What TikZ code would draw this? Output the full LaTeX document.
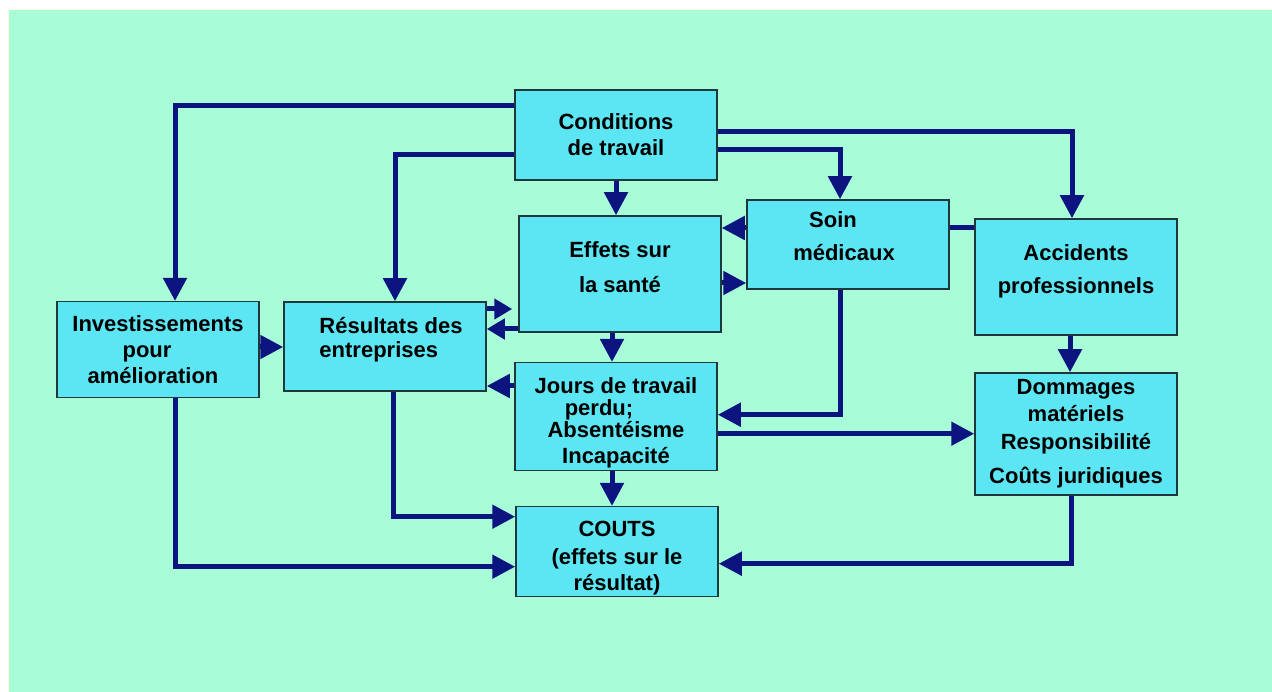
\documentclass[tikz,border=0pt]{standalone}
\usepackage{fontspec}
\setmainfont{Liberation Sans}
\usepackage{xcolor}
\usetikzlibrary{arrows.meta}
\definecolor{fond}{RGB}{168,252,216}
\definecolor{cyanbloc}{RGB}{92,230,244}
\definecolor{marine}{RGB}{12,20,128}
\definecolor{bord}{RGB}{30,56,60}

\begin{document}
\begin{tikzpicture}[x=1pt,y=-1pt,
		bloc/.style={draw=bord, line width=1.5pt, fill=cyanbloc, minimum width=202pt, inner sep=0pt, align=center, font=\fontsize{22}{26}\selectfont\bfseries},
		fleche/.style={draw=marine, line width=5pt, -{Triangle[length=23pt,width=23pt]}},
		petite/.style={draw=marine, line width=5pt, -{Triangle[length=18pt,width=20pt]}},
		trait/.style={draw=marine, line width=5pt}]
		\useasboundingbox (0,0) rectangle (1272,692);
		\fill[white] (0,0) rectangle (1272,692);
		\filldraw[fill=fond, draw=yellow!15, line width=1pt] (8.5,9.5) rectangle (1272,692);
		\node[bloc, minimum height=90pt] (cond) at (616,135) {Conditions\\de travail};
		\node[bloc, minimum height=116pt] (effets) at (620,274) {Effets sur\\[9pt]la sant\'e\rule[-14pt]{0pt}{14pt}};
		\node[bloc, minimum height=89pt] (soin) at (848,244.5) {Soin\hspace*{30pt}\mbox{}\\[7pt]m\'edicaux\hspace*{8pt}\mbox{}\rule[-16pt]{0pt}{16pt}};
		\node[bloc, minimum height=116pt] (acc) at (1076,277) {Accidents\\[7pt]professionnels\rule[-16pt]{0pt}{16pt}};
		\node[bloc, minimum height=122pt] (domm) at (1076,434) {Dommages\\[1pt]mat\'eriels\\[2pt]Responsibilit\'e\\[8pt]Co\^uts juridiques};
		\node[bloc, minimum height=96pt] (invest) at (158,349.7) {Investissements\\pour\hspace*{22pt}\mbox{}\\am\'elioration\hspace*{10pt}\mbox{}};
		\node[bloc, minimum height=89pt, align=left] (result) at (385,346.5) {\hspace*{12pt}R\'esultats des\\[-1.5pt]\hspace*{12pt}entreprises\rule[-18pt]{0pt}{18pt}};
		\node[bloc, minimum height=108pt] (jours) at (616,416.7) {\rule{0pt}{28pt}Jours de travail\\[-4pt]perdu;\hspace*{34pt}\mbox{}\\[-4pt]Absent\'eisme\\Incapacit\'e};
		\node[bloc, minimum height=90pt] (couts) at (617,551.7) {\rule{0pt}{28pt}COUTS\\[2pt](effets sur le\\r\'esultat)};
		\draw[fleche] (cond.south) -- (cond.south |- effets.north);
		\draw[fleche] ([yshift=29pt]cond.west) -| ([xshift=17pt]invest.north);
		\draw[fleche] ([yshift=-20pt]cond.west) -| ([xshift=10pt]result.north);
		\draw[fleche] ([yshift=3pt]cond.east) -| ([xshift=-4pt]acc.north);
		\draw[fleche] ([yshift=-15pt]cond.east) -| ([xshift=-8pt]soin.north);
		\draw[fleche] ([yshift=16.5pt]soin.west) -- ([yshift=16.5pt]soin.west -| effets.east);
		\draw[fleche] ([yshift=-9pt]effets.east) -- ([yshift=-9pt]effets.east -| soin.west);
		\draw[trait] ([yshift=16.5pt]soin.east) -- ([yshift=16.5pt]soin.east -| acc.west);
		\draw[fleche] ([xshift=-8pt]soin.south) |- ([yshift=2pt]jours.east);
		\draw[fleche] ([yshift=-17pt]jours.east) -- ([yshift=-17pt]jours.east -| domm.west);
		\draw[fleche] ([xshift=-8pt]effets.south) -- ([xshift=-8pt]effets.south |- jours.north);
		\draw[petite, shorten >=6pt] ([yshift=-35pt]effets.west -| result.east) -- ([yshift=-35pt]effets.west);
		\draw[petite] ([yshift=-55pt]effets.west) -- ([yshift=-55pt]effets.west -| result.east);
		\draw[fleche] ([yshift=30.7pt]jours.west) -- ([yshift=30.7pt]jours.west -| result.east);
		\draw[fleche] ([yshift=2.7pt]invest.east) -- ([yshift=2.7pt]invest.east -| result.west);
		\draw[fleche] ([xshift=8pt]result.south) |- ([yshift=35pt]couts.west);
		\draw[fleche] ([xshift=17pt]invest.south) |- ([yshift=-15pt]couts.west);
		\draw[fleche] ([xshift=-4pt]jours.south) -- ([xshift=-4pt]jours.south |- couts.north);
		\draw[fleche] ([xshift=-6pt]acc.south) -- ([xshift=-6pt]acc.south |- domm.north);
		\draw[fleche] ([xshift=-5pt]domm.south) |- ([yshift=-12pt]couts.east);
	\end{tikzpicture}
\end{document}
